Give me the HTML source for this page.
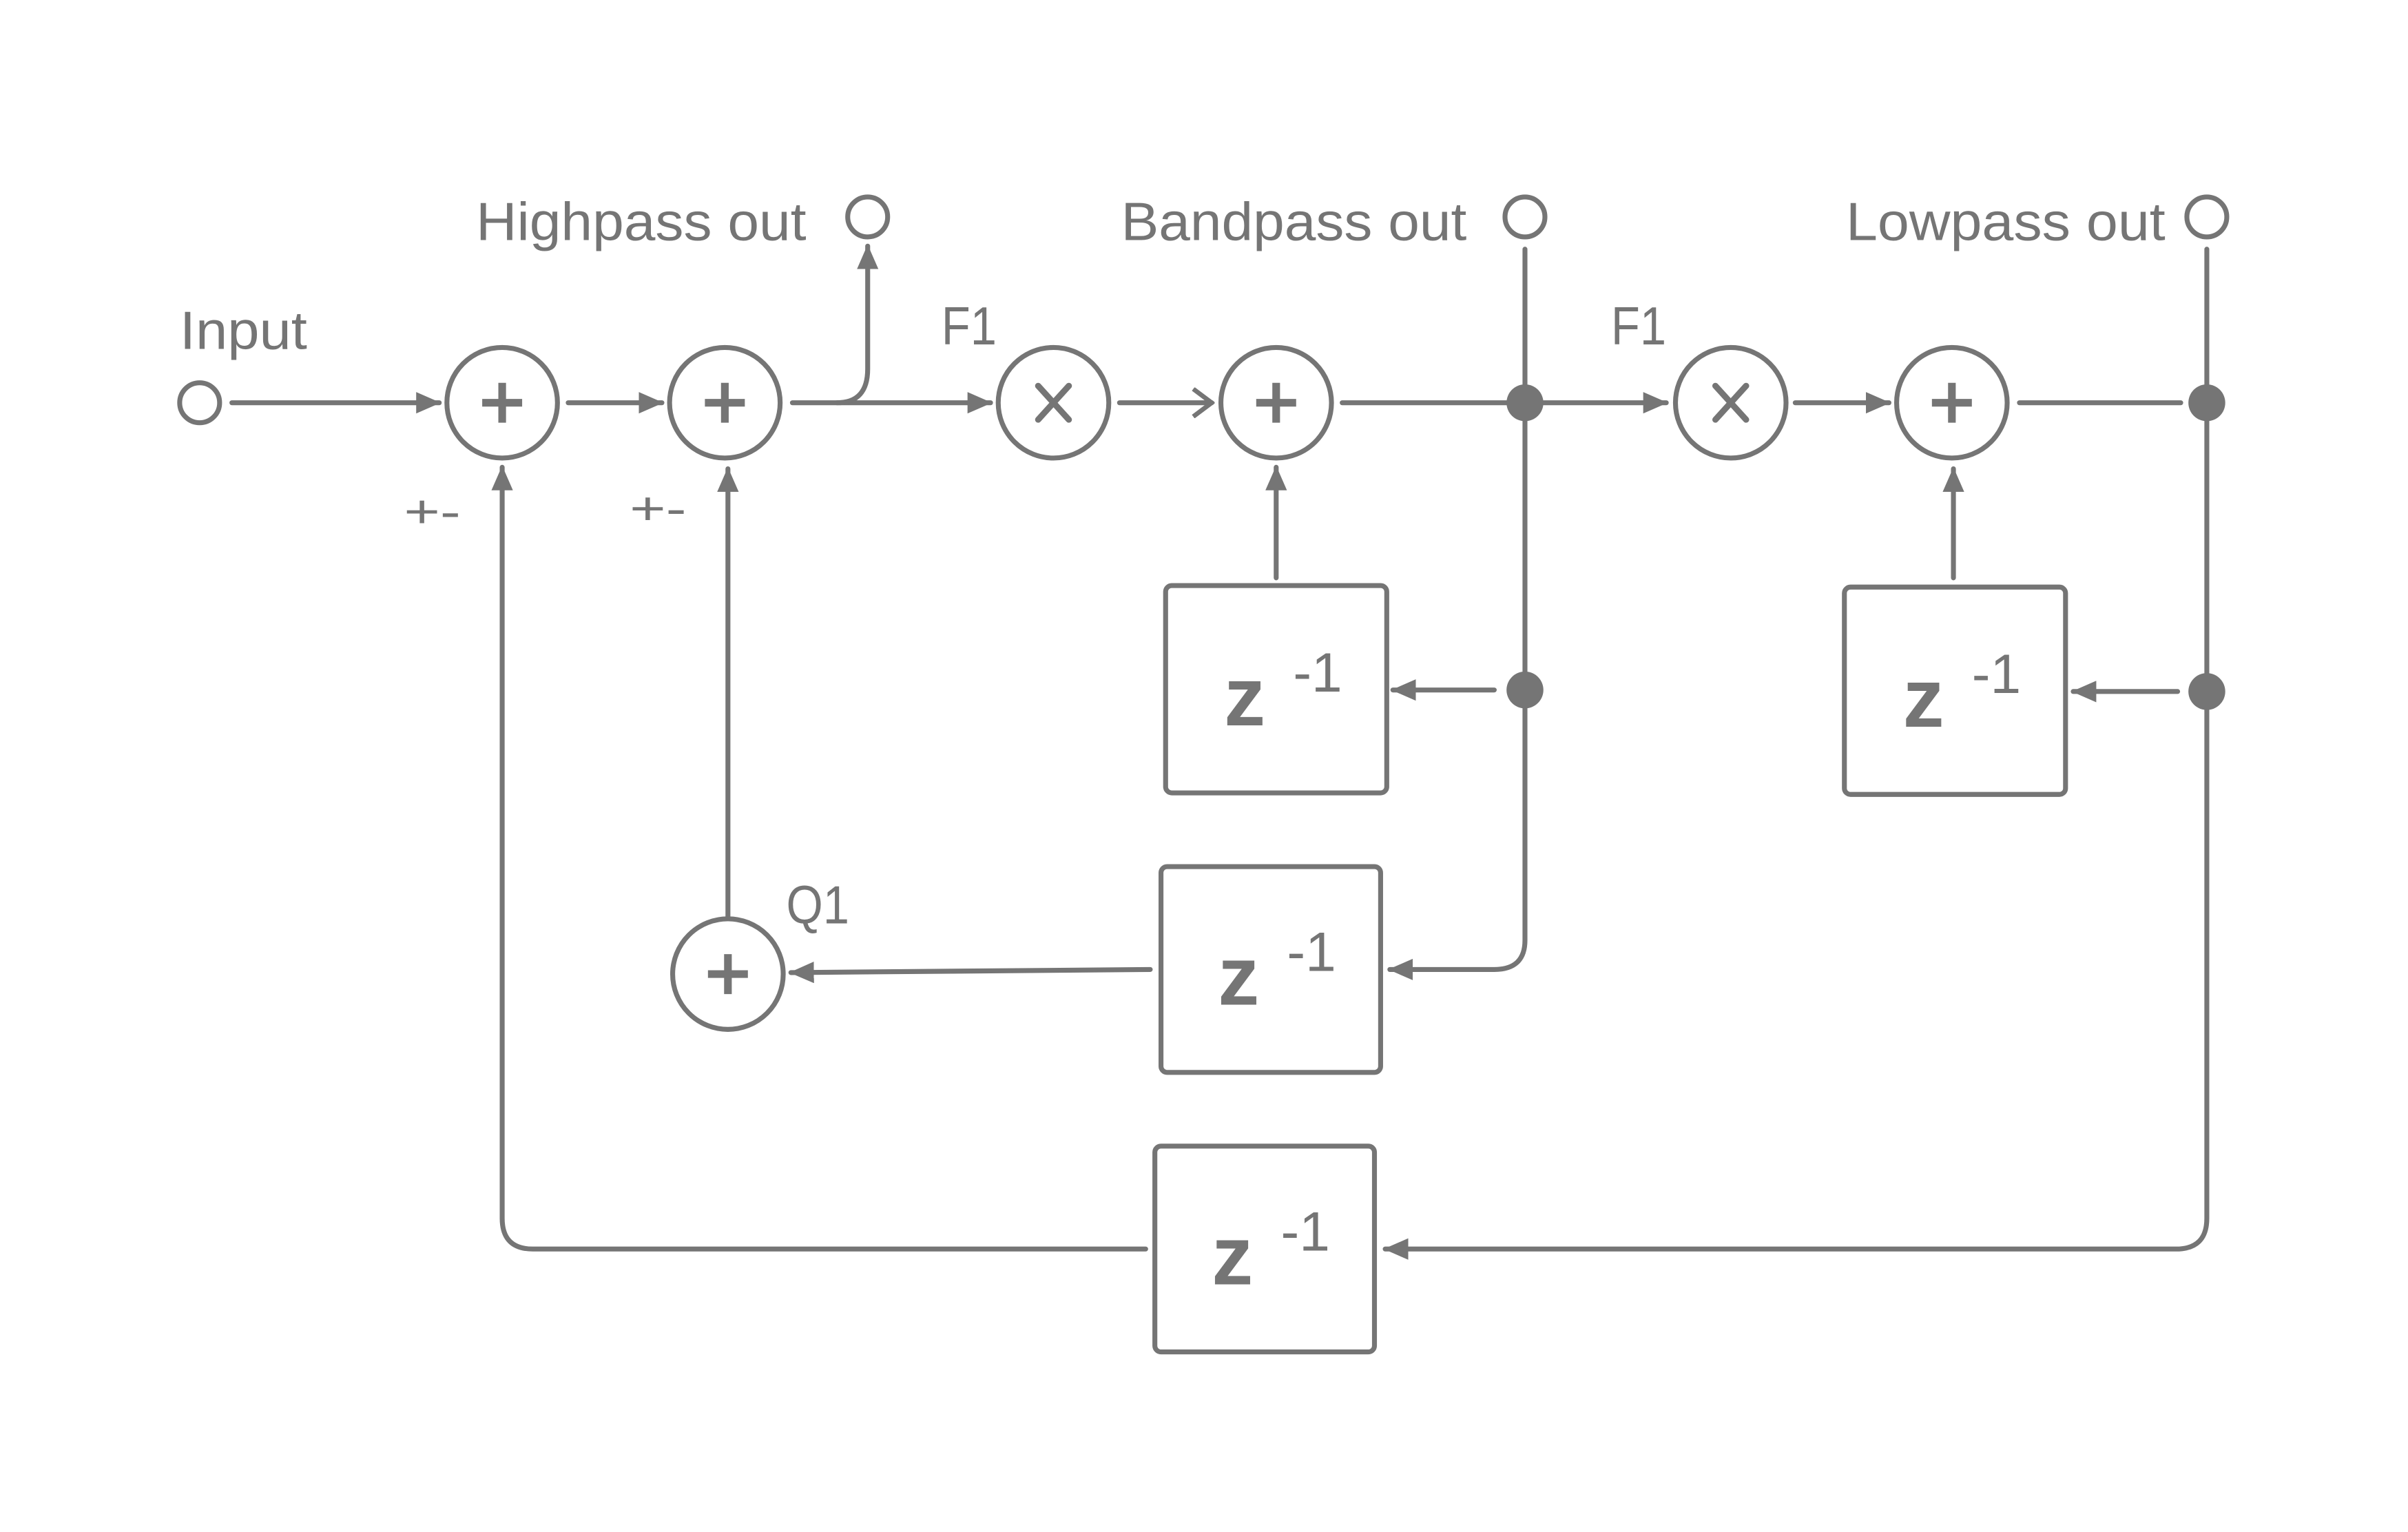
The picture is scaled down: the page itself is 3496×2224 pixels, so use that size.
<!DOCTYPE html>
<html><head><meta charset="utf-8"><style>html,body{margin:0;padding:0;background:#fff}svg{display:block}</style></head>
<body>
<svg width="3496" height="2224" viewBox="0 0 1568 997" xmlns="http://www.w3.org/2000/svg">
<defs>
<marker id="a" markerWidth="16" markerHeight="14" refX="15" refY="7" orient="auto" markerUnits="userSpaceOnUse"><path d="M0,0 L16,7 L0,14 Z" fill="#757575"/></marker>
<marker id="o" markerWidth="16" markerHeight="20" refX="14" refY="10" orient="auto" markerUnits="userSpaceOnUse"><path d="M2,1 L14,10 L2,19" fill="none" stroke="#757575" stroke-width="3"/></marker>
</defs>
<rect width="1568" height="997" fill="#fff"/>
<g fill="none" stroke="#757575" stroke-width="3.2" stroke-linecap="round">
<circle cx="130" cy="262" r="13"/>
<circle cx="565" cy="141" r="13"/>
<circle cx="993" cy="141" r="13"/>
<circle cx="1437" cy="141" r="13"/>
<circle cx="327" cy="262" r="36"/>
<circle cx="472" cy="262" r="36"/>
<circle cx="686" cy="262" r="36"/>
<circle cx="831" cy="262" r="36"/>
<circle cx="1127" cy="262" r="36"/>
<circle cx="1271" cy="262" r="36"/>
<circle cx="474" cy="634" r="36"/>
<rect x="759" y="381" width="144" height="135" rx="4"/>
<rect x="1201" y="382" width="144" height="135" rx="4"/>
<rect x="756" y="564" width="143" height="134" rx="4"/>
<rect x="752" y="746" width="143" height="134" rx="4"/>
<line x1="151" y1="262" x2="286" y2="262" marker-end="url(#a)"/>
<line x1="370" y1="262" x2="431" y2="262" marker-end="url(#a)"/>
<line x1="516" y1="262" x2="645" y2="262" marker-end="url(#a)"/>
<path d="M545,262 Q565,262 565,240 L565,160" marker-end="url(#a)"/>
<line x1="729" y1="262" x2="789" y2="262" marker-end="url(#o)"/>
<line x1="874" y1="262" x2="993" y2="262"/>
<line x1="993" y1="262" x2="1085" y2="262" marker-end="url(#a)"/>
<line x1="1169" y1="262" x2="1230" y2="262" marker-end="url(#a)"/>
<line x1="1315" y1="262" x2="1420" y2="262"/>
<path d="M993,162 L993,612 Q993,631 973,631 L905,631" marker-end="url(#a)"/>
<line x1="973" y1="449" x2="907" y2="449" marker-end="url(#a)"/>
<path d="M1437,162 L1437,793 Q1437,813 1417,813 L902,813" marker-end="url(#a)"/>
<line x1="1418" y1="450" x2="1350" y2="450" marker-end="url(#a)"/>
<line x1="831" y1="376" x2="831" y2="304" marker-end="url(#a)"/>
<line x1="1272" y1="376" x2="1272" y2="305" marker-end="url(#a)"/>
<line x1="749" y1="631" x2="515" y2="633" marker-end="url(#a)"/>
<line x1="474" y1="597" x2="474" y2="305" marker-end="url(#a)"/>
<path d="M746,813 L347,813 Q327,813 327,793 L327,304" marker-end="url(#a)"/>
<g stroke-width="5" stroke-linecap="butt">
<path d="M327,249 V275 M314,262 H340"/>
<path d="M472,249 V275 M459,262 H485"/>
<path d="M831,249 V275 M818,262 H844"/>
<path d="M1271,249 V275 M1258,262 H1284"/>
<path d="M474,621 V647 M461,634 H487"/>
</g>
<g stroke-width="4">
<path d="M676,251 L696,273 M696,251 L676,273"/>
<path d="M1117,251 L1137,273 M1137,251 L1117,273"/>
</g>
</g>
<g fill="#757575">
<circle cx="993" cy="262" r="12"/>
<circle cx="1437" cy="262" r="12"/>
<circle cx="993" cy="449" r="12"/>
<circle cx="1437" cy="450" r="12"/>
</g>
<g fill="#757575" font-family="Liberation Sans, sans-serif" font-size="35">
<text x="117" y="227" textLength="83" lengthAdjust="spacingAndGlyphs">Input</text>
<text x="310" y="156" textLength="215" lengthAdjust="spacingAndGlyphs">Highpass out</text>
<text x="730" y="156" textLength="225" lengthAdjust="spacingAndGlyphs">Bandpass out</text>
<text x="1202" y="156" textLength="208" lengthAdjust="spacingAndGlyphs">Lowpass out</text>
<text x="613" y="224" textLength="36" lengthAdjust="spacingAndGlyphs">F1</text>
<text x="1049" y="224" textLength="36" lengthAdjust="spacingAndGlyphs">F1</text>
<text x="512" y="601" textLength="41" lengthAdjust="spacingAndGlyphs">Q1</text>
<text x="263" y="343" font-size="30" textLength="37" lengthAdjust="spacingAndGlyphs">+-</text>
<text x="410" y="341" font-size="30" textLength="37" lengthAdjust="spacingAndGlyphs">+-</text>
</g>
<g fill="#757575" font-family="Liberation Sans, sans-serif">
<text x="797" y="472" font-size="54" font-weight="bold">z</text><text x="842" y="450" font-size="36">-1</text>
<text x="1239" y="473" font-size="54" font-weight="bold">z</text><text x="1284" y="451" font-size="36">-1</text>
<text x="793" y="654" font-size="54" font-weight="bold">z</text><text x="838" y="632" font-size="36">-1</text>
<text x="789" y="836" font-size="54" font-weight="bold">z</text><text x="834" y="814" font-size="36">-1</text>
</g>
</svg>
</body></html>
